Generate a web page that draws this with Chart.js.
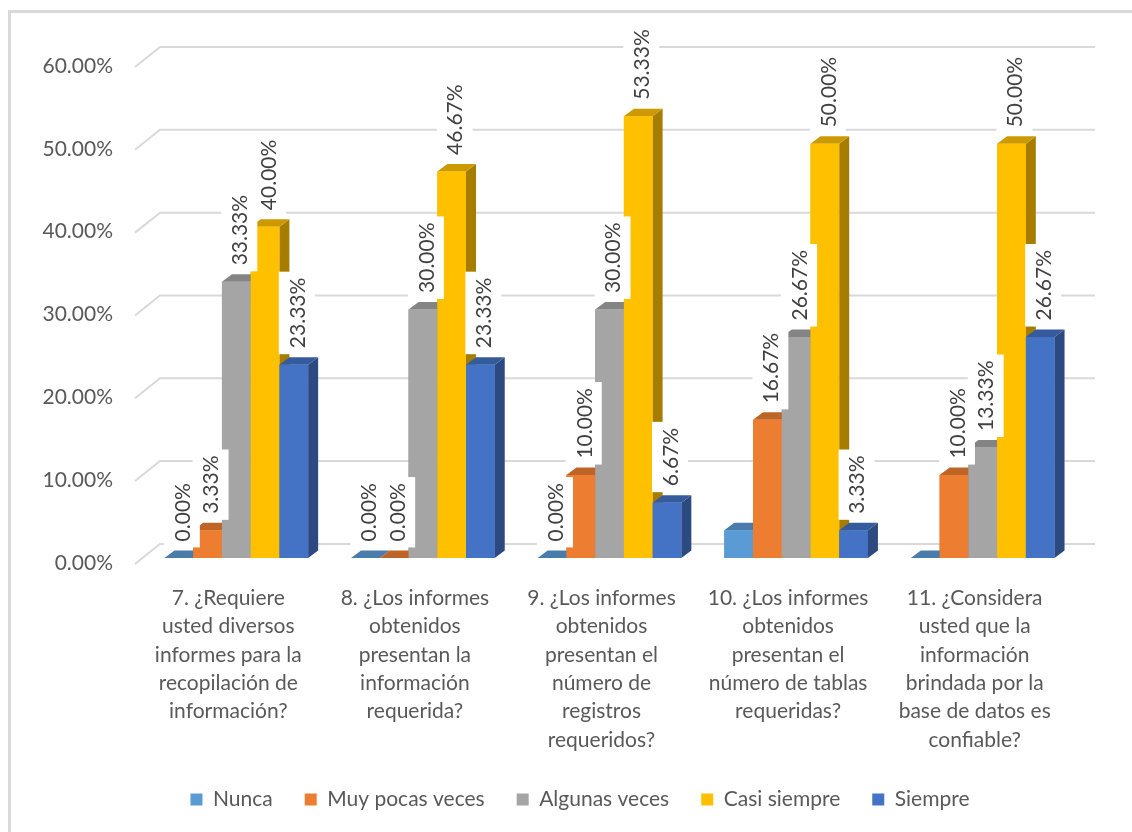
<!DOCTYPE html>
<html>
<head>
<meta charset="utf-8">
<script src="https://cdn.jsdelivr.net/npm/chart.js@4.4.0/dist/chart.umd.min.js"></script>
<style>
html,body{margin:0;padding:0;background:#fff;}
</style>
</head>
<body>
<canvas id="myChart" width="1132" height="832"></canvas>
<script>
var categories = [
    ['7. ¿Requiere', 'usted diversos', 'informes para la', 'recopilación de', 'información?'],
    ['8. ¿Los informes', 'obtenidos', 'presentan la', 'información', 'requerida?'],
    ['9. ¿Los informes', 'obtenidos', 'presentan el', 'número de', 'registros', 'requeridos?'],
    ['10. ¿Los informes', 'obtenidos', 'presentan el', 'número de tablas', 'requeridas?'],
    ['11. ¿Considera', 'usted que la', 'información', 'brindada por la', 'base de datos es', 'confiable?']
];
var seriesNames = ['Nunca', 'Muy pocas veces', 'Algunas veces', 'Casi siempre', 'Siempre'];
var nunca = [0, 0, 0, 3.33, 0];
var muyPocasVeces = [3.33, 0, 10, 16.67, 10];
var algunasVeces = [33.33, 30, 30, 26.67, 13.33];
var casiSiempre = [40, 46.67, 53.33, 50, 50];
var siempre = [23.33, 23.33, 6.67, 3.33, 26.67];
var yTicks = [0, 10, 20, 30, 40, 50, 60];
// which value labels are visible in the original (Nunca labels missing on the last two)
var nuncaLabelShown = [true, true, true, false, false];

var colors = ['#5B9BD5', '#ED7D31', '#A5A5A5', '#FFC000', '#4472C4'];
var FONT = 'Lato';
var DX = 10, DY = 7.5;   // depth of the 3d bars

function shade(hex, f) {
    var n = parseInt(hex.slice(1), 16);
    var r = Math.round(((n >> 16) & 255) * f), g = Math.round(((n >> 8) & 255) * f), b = Math.round((n & 255) * f);
    return 'rgb(' + r + ',' + g + ',' + b + ')';
}

function poly(ctx, pts, fill) {
    ctx.beginPath();
    ctx.moveTo(pts[0][0], pts[0][1]);
    for (var k = 1; k < pts.length; k++) ctx.lineTo(pts[k][0], pts[k][1]);
    ctx.closePath();
    ctx.fillStyle = fill;
    ctx.fill();
}

var bars3d = {
    id: 'bars3d',
    afterLayout: function(chart) {
        // legend sits a bit right of centre in the original
        chart.legend.left += 42;
        chart.legend.right += 42;
    },
    beforeDraw: function(chart) {
        var ctx = chart.ctx;
        ctx.save();
        ctx.strokeStyle = '#d9d9d9';
        ctx.lineWidth = 3;
        ctx.strokeRect(9.5, 11.5, 1200, 900);
        ctx.restore();
    },
    beforeDatasetsDraw: function(chart) {
        // back wall gridlines with the slanted piece on the left
        var ctx = chart.ctx, y = chart.scales.y, area = chart.chartArea;
        ctx.save();
        ctx.strokeStyle = '#d9d9d9';
        ctx.lineWidth = 2;
        yTicks.forEach(function(v) {
            var py = y.getPixelForValue(v);
            ctx.beginPath();
            ctx.moveTo(area.left - 8, py + 6);
            ctx.lineTo(area.left + 17, py - 14);
            ctx.lineTo(area.right + 19, py - 14);
            ctx.stroke();
        });
        ctx.restore();
    },
    afterDatasetsDraw: function(chart) {
        var ctx = chart.ctx;
        var sets = chart.data.datasets;
        ctx.save();
        for (var i = 0; i < chart.data.labels.length; i++) {
            for (var d = 0; d < sets.length; d++) {
                var p = chart.getDatasetMeta(d).data[i].getProps(['x', 'y', 'base', 'width'], true);
                var x0 = p.x - p.width / 2, x1 = p.x + p.width / 2;
                var top = Math.min(p.y, p.base), base = p.base;
                if (base - top > 0.5) {
                    poly(ctx, [[x1, top], [x1 + DX, top - DY], [x1 + DX, base - DY], [x1, base]], shade(colors[d], 0.65));
                }
                poly(ctx, [[x0, top], [x1, top], [x1 + DX, top - DY], [x0 + DX, top - DY]], shade(colors[d], 0.8));
                ctx.fillStyle = colors[d];
                ctx.fillRect(x0, top, x1 - x0, base - top);
            }
        }
        // value labels, rotated, on white boxes
        ctx.font = '21px ' + FONT;
        ctx.textAlign = 'center';
        ctx.textBaseline = 'middle';
        for (var i = 0; i < chart.data.labels.length; i++) {
            for (var d = 0; d < sets.length; d++) {
                if (d === 0 && !nuncaLabelShown[i]) continue;
                var v = sets[d].data[i];
                var p = chart.getDatasetMeta(d).data[i].getProps(['x', 'y', 'base'], true);
                var txt = v.toFixed(2) + '%';
                var w = ctx.measureText(txt).width;
                var cx = p.x + 3;
                var bottom = Math.min(p.y, p.base) - DY - 3;
                var h = w + 12;
                ctx.fillStyle = '#ffffff';
                ctx.fillRect(cx - 18, bottom - h, 36, h);
                ctx.save();
                ctx.translate(cx, bottom - h / 2);
                ctx.rotate(-Math.PI / 2);
                ctx.fillStyle = '#404040';
                ctx.fillText(txt, 0, 1);
                ctx.restore();
            }
        }
        ctx.restore();
    }
};

var allSeries = [nunca, muyPocasVeces, algunasVeces, casiSiempre, siempre];
var ctx = document.getElementById('myChart').getContext('2d');
var myChart = new Chart(ctx, {
    type: 'bar',
    data: {
        labels: categories,
        datasets: allSeries.map(function(vals, d) {
            return {
                label: seriesNames[d],
                data: vals,
                backgroundColor: colors[d],
                borderWidth: 0
            };
        })
    },
    plugins: [bars3d],
    options: {
        responsive: false,
        animation: false,
        devicePixelRatio: 1,
        categoryPercentage: 0.77,
        barPercentage: 1.0,
        layout: { padding: { left: 0, right: 56, top: 61, bottom: 12 } },
        plugins: {
            tooltip: { enabled: false },
            legend: {
                position: 'bottom',
                labels: {
                    boxWidth: 12,
                    boxHeight: 12,
                    padding: 32,
                    color: '#595959',
                    font: { family: FONT, size: 21 }
                }
            }
        },
        scales: {
            x: {
                grid: { display: false, drawTicks: false },
                border: { display: false },
                afterFit: function(s) { s.height -= 23; },
                ticks: {
                    color: '#595959',
                    font: { family: FONT, size: 21, lineHeight: 1.35 },
                    padding: 26,
                    labelOffset: -8,
                    maxRotation: 0,
                    autoSkip: false
                }
            },
            y: {
                min: 0,
                max: 60,
                grid: { display: false, drawTicks: false },
                border: { display: false },
                afterBuildTicks: function(s) {
                    s.ticks = yTicks.map(function(v) { return { value: v }; });
                },
                afterFit: function(s) { s.width = 143; },
                ticks: {
                    color: '#595959',
                    font: { family: FONT, size: 21 },
                    padding: 30,
                    labelOffset: 5,
                    callback: function(v) { return v.toFixed(2) + '%'; }
                }
            }
        }
    }
});
</script>
</body>
</html>
